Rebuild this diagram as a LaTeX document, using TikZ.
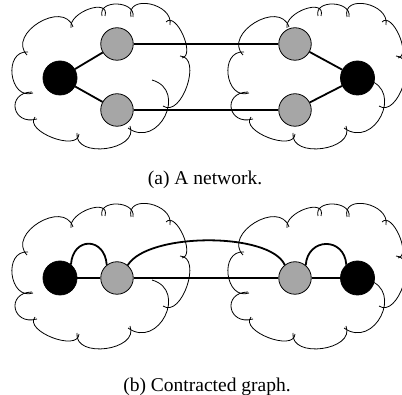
\documentclass[tikz,border=0pt]{standalone}
\usepackage{fontspec}
\setmainfont{Liberation Serif}

\definecolor{portgray}{RGB}{166,166,166}

% One puff of a cloud: start (#1,#2), outermost point (#3,#4), end (#5,#6);
% \puffwide widens the puff sideways without moving its outermost point
\newcommand\puffwide{0.12}
\newcommand\cloudlobe[6]{%
  \draw[cloudline] (#1,#2) .. controls
    ({#1/3+4*#3/3-2*#5/3-\puffwide*(#5-#1)},{#2/3+4*#4/3-2*#6/3-\puffwide*(#6-#2)}) and
    ({#5/3+4*#3/3-2*#1/3+\puffwide*(#5-#1)},{#6/3+4*#4/3-2*#2/3+\puffwide*(#6-#2)}) .. (#5,#6);}

% The whole cloud outline, drawn in its own local frame
\newcommand\cloudshape{%
  \cloudlobe{27}{55}{38.8}{22.6}{73}{27}
  \cloudlobe{71}{28}{89}{9}{105}{16}
  \cloudlobe{102}{16}{117}{4}{133}{17}
  \cloudlobe{131}{17}{150}{4}{170}{25}
  \cloudlobe{166}{22}{183}{35}{182}{58}
  \cloudlobe{180}{56}{187}{86}{163}{106}
  \cloudlobe{152}{80}{165}{116}{128}{128}
  \cloudlobe{130}{126}{106}{148.5}{77}{133}
  \cloudlobe{79}{134}{52.3}{137.6}{35}{117}
  \cloudlobe{37}{119}{15.2}{108.3}{32}{92}
  \cloudlobe{33}{93}{12.1}{74.7}{28}{52}
}

\tikzset{
  cloudline/.style={line width=0.8pt, black},
  hub/.style={circle, draw, line width=0.8pt, fill=black, minimum size=34pt, inner sep=0pt},
  port/.style={circle, draw, line width=0.8pt, fill=portgray, minimum size=32.5pt, inner sep=0pt},
  link/.style={line width=1.8pt},
  caption/.style={anchor=base, inner sep=0pt, font=\fontsize{19.5}{23}\selectfont},
}

\begin{document}
\begin{tikzpicture}[x=1pt, y=-1pt]
\useasboundingbox (0,0) rectangle (402,395);

% clouds of the network
\begin{scope}\cloudshape\end{scope}
\begin{scope}[shift={(216,0)}]\cloudshape\end{scope}
% clouds of the contracted graph
\begin{scope}[shift={(0,200)}]\cloudshape\end{scope}
\begin{scope}[shift={(216,200)}]\cloudshape\end{scope}

% (a) the network
\node[hub]  (a1) at (60,78) {};
\node[port] (p1) at (117,44) {};
\node[port] (p2) at (117,110) {};
\node[port] (p3) at (295,44) {};
\node[port] (p4) at (295,110) {};
\node[hub]  (a2) at (357.5,78) {};

\draw[link] (a1) -- (p1);
\draw[link] (a1) -- (p2);
\draw[link] (p1) -- (p3);
\draw[link] (p2) -- (p4);
\draw[link] (p3) -- (a2);
\draw[link] (p4) -- (a2);

\node[caption] (capa) at (205,185) {(a) A network.};

% (b) the contracted graph
\node[hub]  (b1) at (60,278) {};
\node[port] (c1) at (117,278) {};
\node[port] (c2) at (295,278) {};
\node[hub]  (b2) at (357.5,278) {};

\draw[link] (b1) -- (c1);
\draw[link] (c1) -- (c2);
\draw[link] (c2) -- (b2);
\draw[link] (b1.51) .. controls +(2,-28) and +(-2,-28) .. (c1.128);
\draw[link] (c2.50) .. controls +(2,-28) and +(-2,-28) .. (b2.130);
\draw[link] (c1.50) .. controls +(20,-33) and +(-15,-33) .. (c2.128);

\node[caption] (capb) at (207,392) {(b) Contracted graph.};
\end{tikzpicture}
\end{document}
